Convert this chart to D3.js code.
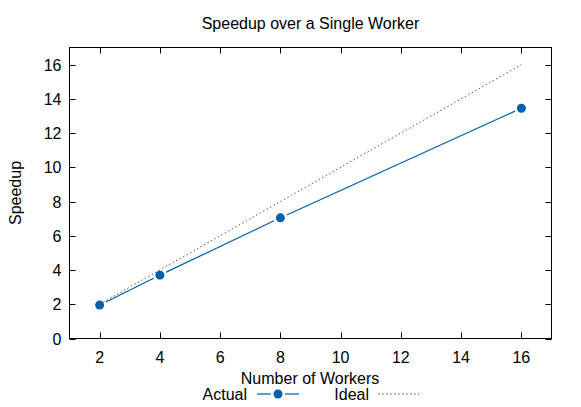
<!DOCTYPE html>
<html><head><meta charset="utf-8">
<script src="https://cdn.jsdelivr.net/npm/d3@7"></script>
<style>body{margin:0;background:#fff}text{font-family:"Liberation Sans",Arial,sans-serif;fill:#000}</style>
</head><body><svg id="c" width="581" height="407"></svg>
<script>
const workers = [2, 4, 8, 16];
const actual = [1.95, 3.7, 7.05, 13.45];
const ideal = [2, 4, 8, 16];
const xTicks = [2, 4, 6, 8, 10, 12, 14, 16];
const yTicks = [0, 2, 4, 6, 8, 10, 12, 14, 16];

const svg = d3.select("#c");
const L = 69.5, R = 551.5, T = 47.5, B = 338.5;
const x = d3.scaleLinear().domain([1, 17]).range([L, R]);
const y = d3.scaleLinear().domain([0, 17]).range([B, T]);
const blue = "#0060ad";
const fs = 16;

// ticks (inward, mirrored)
const tl = 6;
const g = svg.append("g").attr("stroke", "#000").attr("stroke-width", 1);
xTicks.forEach(v => {
  const px = Math.round(x(v)) + 0.5;
  g.append("line").attr("x1", px).attr("x2", px).attr("y1", B).attr("y2", B - tl);
  g.append("line").attr("x1", px).attr("x2", px).attr("y1", T).attr("y2", T + tl);
  svg.append("text").attr("x", x(v)).attr("y", B + 24).attr("text-anchor", "middle").attr("font-size", fs).text(v);
});
yTicks.forEach(v => {
  const py = Math.round(y(v)) + 0.5;
  g.append("line").attr("x1", L).attr("x2", L + tl).attr("y1", py).attr("y2", py);
  g.append("line").attr("x1", R).attr("x2", R - tl).attr("y1", py).attr("y2", py);
  svg.append("text").attr("x", L - 8).attr("y", y(v) + 6).attr("text-anchor", "end").attr("font-size", fs).text(v);
});
svg.append("rect").attr("x", L).attr("y", T).attr("width", R - L).attr("height", B - T)
  .attr("fill", "none").attr("stroke", "#000").attr("stroke-width", 1);

// ideal
svg.append("path").datum(workers.map((w, i) => [w, ideal[i]]))
  .attr("d", d3.line().x(d => x(d[0])).y(d => y(d[1])))
  .attr("fill", "none").attr("stroke", "#555").attr("stroke-width", 1).attr("stroke-dasharray", "1.5,2.5");

// actual: segments with gaps around points
const gap = 7;
for (let i = 0; i < workers.length - 1; i++) {
  const x0 = x(workers[i]), y0 = y(actual[i]), x1 = x(workers[i + 1]), y1 = y(actual[i + 1]);
  const len = Math.hypot(x1 - x0, y1 - y0), ux = (x1 - x0) / len, uy = (y1 - y0) / len;
  svg.append("line").attr("x1", x0 + ux * gap).attr("y1", y0 + uy * gap)
    .attr("x2", x1 - ux * gap).attr("y2", y1 - uy * gap)
    .attr("stroke", blue).attr("stroke-width", 1.2);
}
svg.selectAll("circle.p").data(workers).join("circle")
  .attr("cx", d => x(d)).attr("cy", (d, i) => y(actual[i])).attr("r", 4.5).attr("fill", blue);

// labels
svg.append("text").attr("x", (L + R) / 2).attr("y", 29).attr("text-anchor", "middle").attr("font-size", fs).text("Speedup over a Single Worker");
svg.append("text").attr("x", 310).attr("y", 384).attr("text-anchor", "middle").attr("font-size", fs).text("Number of Workers");
svg.append("text").attr("transform", "translate(21,193) rotate(-90)").attr("text-anchor", "middle").attr("font-size", fs).text("Speedup");

// legend
const ly = 394;
svg.append("text").attr("x", 247).attr("y", ly + 5.5).attr("text-anchor", "end").attr("font-size", fs).text("Actual");
svg.append("line").attr("x1", 257).attr("x2", 271).attr("y1", ly).attr("y2", ly).attr("stroke", blue).attr("stroke-width", 1.2);
svg.append("line").attr("x1", 285).attr("x2", 299).attr("y1", ly).attr("y2", ly).attr("stroke", blue).attr("stroke-width", 1.2);
svg.append("circle").attr("cx", 278).attr("cy", ly).attr("r", 4.5).attr("fill", blue);
svg.append("text").attr("x", 369).attr("y", ly + 5.5).attr("text-anchor", "end").attr("font-size", fs).text("Ideal");
svg.append("line").attr("x1", 378).attr("x2", 421).attr("y1", ly).attr("y2", ly).attr("stroke", "#555").attr("stroke-dasharray", "1.5,2.5");
</script></body></html>
